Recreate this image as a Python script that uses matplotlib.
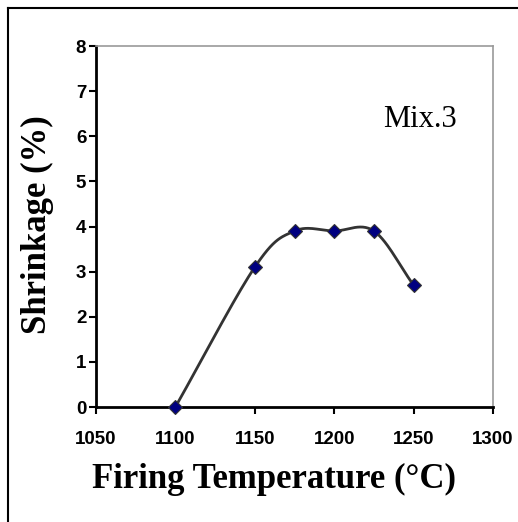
import numpy as np
import matplotlib
matplotlib.use("Agg")
import matplotlib.pyplot as plt
from matplotlib.lines import Line2D

temps = [1100, 1150, 1175, 1200, 1225, 1250]
shrink = [0.0, 3.1, 3.9, 3.9, 3.9, 2.7]
xticks = [1050, 1100, 1150, 1200, 1250, 1300]
yticks = [0, 1, 2, 3, 4, 5, 6, 7, 8]


def catmull_rom(x, y, n=30):
    x = np.asarray(x, float); y = np.asarray(y, float)
    px = np.concatenate([[2 * x[0] - x[1]], x, [2 * x[-1] - x[-2]]])
    py = np.concatenate([[2 * y[0] - y[1]], y, [2 * y[-1] - y[-2]]])
    xs, ys = [], []
    t = np.linspace(0, 1, n)
    for i in range(1, len(px) - 2):
        for arr, out in ((px, xs), (py, ys)):
            p0, p1, p2, p3 = arr[i - 1], arr[i], arr[i + 1], arr[i + 2]
            out.extend(0.5 * ((2 * p1) + (-p0 + p2) * t + (2 * p0 - 5 * p1 + 4 * p2 - p3) * t ** 2
                              + (-p0 + 3 * p1 - 3 * p2 + p3) * t ** 3))
    return np.array(xs), np.array(ys)


fig = plt.figure(figsize=(5.18, 5.22), dpi=100)
ax = fig.add_axes([96 / 518, 1 - 407 / 522, (493 - 96) / 518, (407 - 46) / 522])

sx, sy = catmull_rom(temps, shrink)
ax.plot(sx, sy, color="#333333", lw=2.0, zorder=2)
ax.plot(temps, shrink, linestyle="none", marker="D", markersize=7,
        markerfacecolor="#000080", markeredgecolor="#333333", markeredgewidth=0.8, zorder=3,
        clip_on=False)

ax.set_xlim(1050, 1300)
ax.set_ylim(0, 8)
ax.set_xticks(xticks)
ax.set_yticks(yticks)
ax.set_xticklabels([str(v) for v in xticks], fontfamily="Liberation Sans", fontweight="bold", fontsize=13.5)
ax.set_yticklabels([str(v) for v in yticks], fontfamily="Liberation Sans", fontweight="bold", fontsize=13.5)
ax.tick_params(axis="both", direction="out", length=5, width=1.5, color="black")
ax.tick_params(axis="x", pad=12)
ax.tick_params(axis="y", pad=2)
for s in ("left", "bottom"):
    ax.spines[s].set_color("black")
    ax.spines[s].set_linewidth(2.0)
for s in ("top", "right"):
    ax.spines[s].set_color("#999999")
    ax.spines[s].set_linewidth(1.2)

ax.set_xlabel("Firing Temperature (°C)", fontfamily="Liberation Serif", fontweight="bold",
              fontsize=25)
ax.xaxis.set_label_coords((273.5 - 96) / 397, (407 - 488) / 361)
ax.xaxis.label.set_verticalalignment("baseline")
ax.set_ylabel("Shrinkage (%)", fontfamily="Liberation Serif", fontweight="bold",
              fontsize=25)
ax.yaxis.set_label_coords((37 - 96) / 397, (407 - 224.5) / 361)
ax.yaxis.label.set_verticalalignment("center")
ax.text(1230.7, 6.2, "Mix.3", fontfamily="Liberation Serif", fontsize=22, ha="left", va="baseline")

fig.add_artist(Line2D([7.5 / 518, 7.5 / 518], [0, 1 - 7.5 / 522], color="black", lw=1.5))
fig.add_artist(Line2D([7.5 / 518, 1], [1 - 7.5 / 522, 1 - 7.5 / 522], color="black", lw=1.5))

fig.savefig("out.png", dpi=100)
